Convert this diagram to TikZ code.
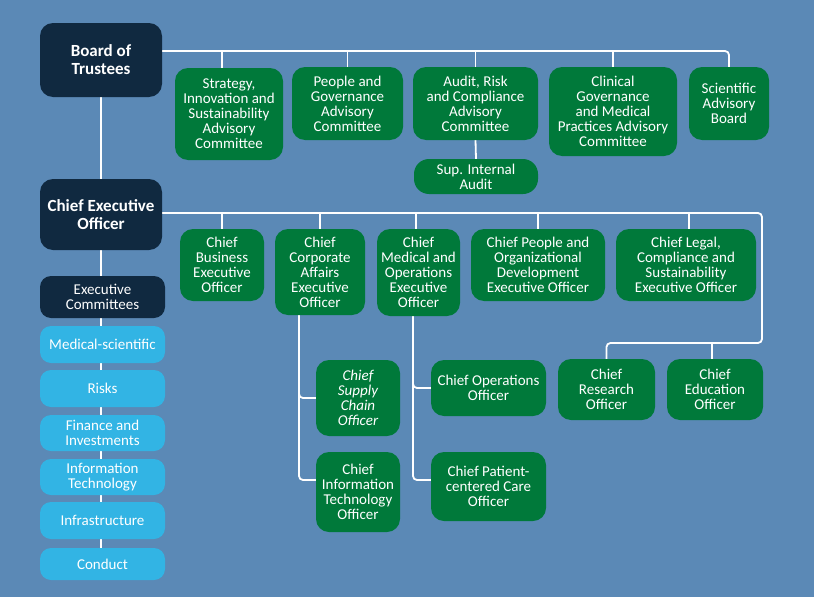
\documentclass[tikz,border=0pt]{standalone}
\usepackage{fontspec}
\setmainfont{Carlito}
\usetikzlibrary{backgrounds}
\definecolor{bgblue}{RGB}{91,137,182}
\definecolor{navy}{RGB}{16,41,64}
\definecolor{grn}{RGB}{0,121,58}
\definecolor{lblue}{RGB}{50,180,228}
\newcommand\regf{\fontsize{15}{15}\selectfont}
\newcommand\ttlf{\fontsize{17}{18}\selectfont\bfseries}
\tikzset{
  base/.style={rounded corners=13pt, text=white, align=center, inner sep=0pt, font=\regf},
  gbox/.style={base, fill=grn},
  nbox/.style={base, fill=navy},
  tbox/.style={nbox, font=\ttlf},
  lbox/.style={base, fill=lblue, rounded corners=11pt, minimum width=125pt},
  conn/.style={draw=white, line width=1.8pt, rounded corners=4pt},
}
\begin{document}
\begin{tikzpicture}[x=1pt,y=-1pt]
\useasboundingbox (0,0) rectangle (814,597);
% top level
\node[tbox, minimum width=122pt, minimum height=74pt] (bot) at (101,60) {Board of\\Trustees};
\node[gbox, minimum width=108pt, minimum height=92pt] (strat) at (229,114) {Strategy,\\Innovation and\\Sustainability\\Advisory\\Committee};
\node[gbox, minimum width=111pt, minimum height=73pt] (pgc) at (347.5,103.5) {People and\\Governance\\Advisory\\Committee};
\node[gbox, minimum width=125pt, minimum height=73pt] (arc) at (475.5,103.5) {Audit, Risk\\and Compliance\\Advisory\\Committee};
\node[gbox, minimum width=124pt, minimum height=35pt, rounded corners=15pt] (sia) at (476,176.5) {Sup. Internal\\Audit};
\node[gbox, minimum width=128pt, minimum height=89pt] (cgm) at (613,111.5) {Clinical\\Governance\\and Medical\\Practices Advisory\\Committee};
\node[gbox, minimum width=80pt, minimum height=73pt] (sab) at (729,103.5) {Scientific\\Advisory\\Board};
% CEO
\node[tbox, minimum width=122pt, minimum height=71pt] (ceo) at (101,214.5) {Chief Executive\\Officer};
\node[gbox, minimum width=84pt, minimum height=72pt] (cbo) at (222,265) {Chief\\Business\\Executive\\Officer};
\node[gbox, minimum width=90pt, minimum height=86pt] (cca) at (320,272) {Chief\\Corporate\\Affairs\\Executive\\Officer};
\node[gbox, minimum width=83pt, minimum height=87pt] (cmo) at (418.5,272.5) {Chief\\Medical and\\Operations\\Executive\\Officer};
\node[gbox, minimum width=134pt, minimum height=72pt] (cpo) at (538,265) {Chief People and\\Organizational\\Development\\Executive Officer};
\node[gbox, minimum width=140pt, minimum height=72pt] (clo) at (686,265) {Chief Legal,\\Compliance and\\Sustainability\\Executive Officer};
% third level
\node[gbox, minimum width=84pt, minimum height=76pt] (csc) at (358,398) {\itshape Chief\\\itshape Supply\\\itshape Chain\\\itshape Officer};
\node[gbox, minimum width=84pt, minimum height=80pt] (cit) at (358,492) {Chief\\Information\\Technology\\Officer};
\node[gbox, minimum width=115pt, minimum height=56pt] (coo) at (488.5,388) {Chief Operations\\Officer};
\node[gbox, minimum width=115pt, minimum height=69pt] (cpc) at (488.5,486.5) {Chief Patient-\\centered Care\\Officer};
\node[gbox, minimum width=97pt, minimum height=61pt] (cro) at (606.5,389.5) {Chief\\Research\\Officer};
\node[gbox, minimum width=96pt, minimum height=61pt] (ceduo) at (715,389.5) {Chief\\Education\\Officer};
% executive committees
\node[nbox, minimum width=125pt, minimum height=42pt, rounded corners=11pt] (exc) at (102.5,297) {Executive\\Committees};
\node[lbox, minimum height=37pt] (ms) at (102.5,344.5) {Medical-scientific};
\node[lbox, minimum height=37pt] (rk) at (102.5,388.5) {Risks};
\node[lbox, minimum height=36pt] (fi) at (102.5,433) {Finance and\\Investments};
\node[lbox, minimum height=36pt] (it) at (102.5,477) {Information\\Technology};
\node[lbox, minimum height=37pt] (inf) at (102.5,520.5) {Infrastructure};
\node[lbox, minimum height=32pt] (cd) at (102.5,564) {Conduct};
\begin{pgfonlayer}{background}
\fill[bgblue] (0,0) rectangle (814,597);
% board bus
\coordinate (bbus) at ([yshift=9pt]bot.east);
\coordinate (sdrop) at ([xshift=-7pt]strat.north);
\draw[conn] (bbus) -| (sab.north);
\draw[conn] (bbus -| sdrop) -- (sdrop);
\draw[conn] (bbus -| pgc.north) -- (pgc.north);
\draw[conn] (bbus -| arc.north) -- (arc.north);
\draw[conn] (bbus -| cgm.north) -- (cgm.north);
\draw[conn] (arc.south) -- (sia.north);
\draw[conn] (bot.south) -- (ceo.north);
% CEO bus
\coordinate (cbus) at ([yshift=1.5pt]ceo.east);
\coordinate (cturn) at (762,343);
\draw[conn] (cbus) -| (cturn) -| (cro.north);
\coordinate (edrop) at ([xshift=-3pt]ceduo.north);
\draw[conn] (edrop |- cturn) -- (edrop);
\draw[conn] (cbus -| cbo.north) -- (cbo.north);
\draw[conn] (cbus -| cca.north) -- (cca.north);
\coordinate (mdrop) at ([xshift=-2.5pt]cmo.north);
\draw[conn] (cbus -| mdrop) -- (mdrop);
\draw[conn] (cbus -| cpo.north) -- (cpo.north);
\coordinate (ldrop) at ([xshift=3pt]clo.north);
\draw[conn] (cbus -| ldrop) -- (ldrop);
% corporate affairs branch
\coordinate (cav) at ([xshift=-21pt]cca.south);
\draw[conn] (cav) |- (csc.west);
\draw[conn] (cav) |- ([yshift=12pt]cit.west);
% medical branch
\coordinate (cmv) at ([xshift=-5.5pt]cmo.south);
\draw[conn] (cmv) |- (coo.west);
\draw[conn] (cmv) |- ([yshift=6.5pt]cpc.west);
% committees chain
\draw[conn] (ceo.south) -- (ceo.south |- cd.north);
\end{pgfonlayer}
\end{tikzpicture}
\end{document}
